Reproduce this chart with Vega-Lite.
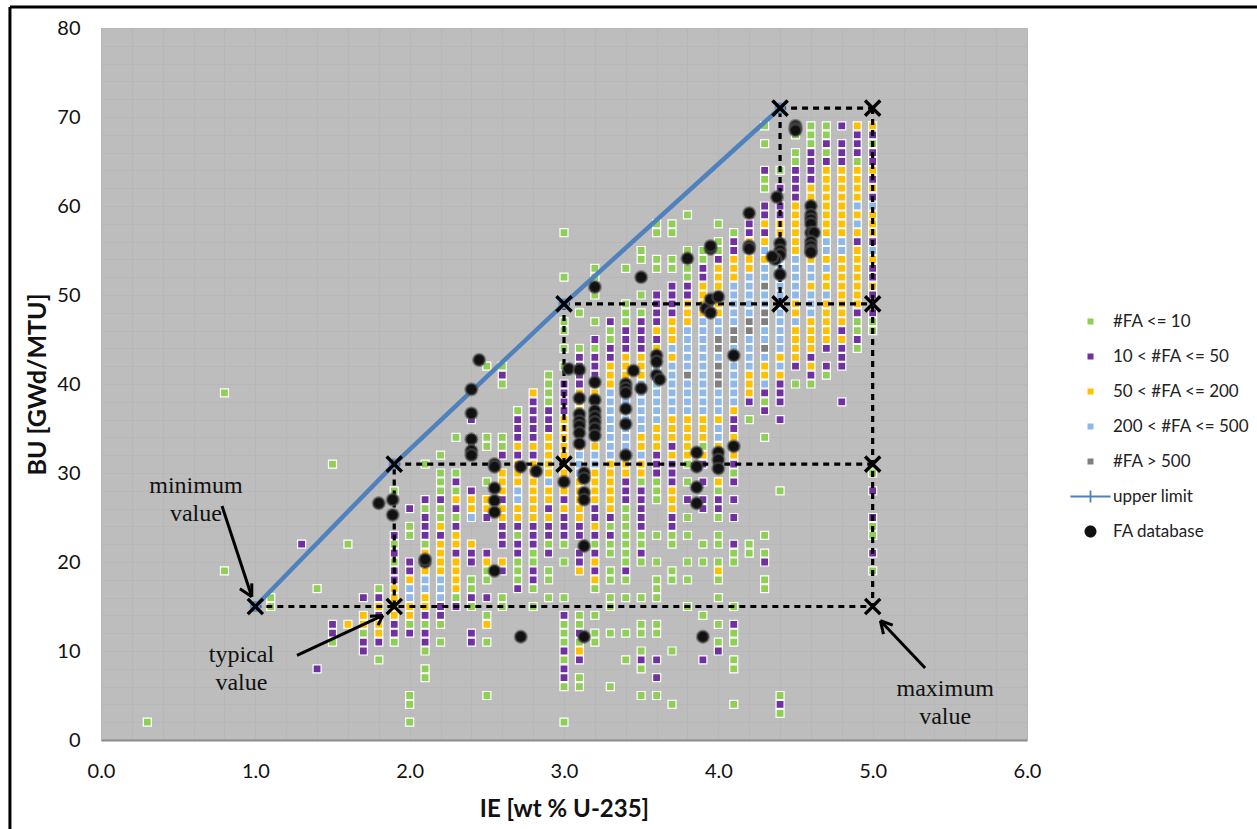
{"$schema":"https://vega.github.io/schema/vega-lite/v6.json","width":926,"height":712,"autosize":{"type":"none"},"padding":{"left":101,"top":28,"right":230,"bottom":89},"background":"#ffffff","view":{"fill":"#bdbdbd","stroke":null},
"datasets":{"squares":[
{"x":0.3,"y":2,"c":"a"},{"x":0.8,"y":39,"c":"a"},{"x":0.8,"y":19,"c":"a"},{"x":1.1,"y":16,"c":"a"},{"x":1.1,"y":15,"c":"a"},{"x":1.3,"y":22,"c":"b"},{"x":1.4,"y":17,"c":"a"},{"x":1.4,"y":8,"c":"b"},{"x":1.5,"y":31,"c":"a"},{"x":1.5,"y":13,"c":"b"},{"x":1.5,"y":12,"c":"b"},{"x":1.5,"y":11,"c":"a"},{"x":1.6,"y":22,"c":"a"},{"x":1.6,"y":13,"c":"c"},
{"x":1.7,"y":16,"c":"b"},{"x":1.7,"y":14,"c":"c"},{"x":1.7,"y":13,"c":"c"},{"x":1.7,"y":12,"c":"a"},{"x":1.7,"y":11,"c":"b"},{"x":1.7,"y":10,"c":"b"},
{"x":1.8,"y":17,"c":"a"},{"x":1.8,"y":16,"c":"b"},{"x":1.8,"y":15,"c":"c"},{"x":1.8,"y":14,"c":"b"},{"x":1.8,"y":13,"c":"c"},{"x":1.8,"y":12,"c":"c"},{"x":1.8,"y":11,"c":"b"},{"x":1.8,"y":9,"c":"a"},
{"x":1.9,"y":28,"c":"a"},{"x":1.9,"y":23,"c":"b"},{"x":1.9,"y":22,"c":"a"},{"x":1.9,"y":21,"c":"b"},{"x":1.9,"y":20,"c":"a"},{"x":1.9,"y":19,"c":"b"},{"x":1.9,"y":18,"c":"b"},{"x":1.9,"y":17,"c":"c"},{"x":1.9,"y":16,"c":"c"},{"x":1.9,"y":15,"c":"c"},{"x":1.9,"y":14,"c":"c"},{"x":1.9,"y":13,"c":"b"},{"x":1.9,"y":12,"c":"b"},{"x":1.9,"y":11,"c":"a"},
{"x":2.0,"y":26,"c":"b"},{"x":2.0,"y":24,"c":"a"},{"x":2.0,"y":23,"c":"a"},{"x":2.0,"y":20,"c":"b"},{"x":2.0,"y":19,"c":"b"},{"x":2.0,"y":18,"c":"c"},{"x":2.0,"y":17,"c":"d"},{"x":2.0,"y":16,"c":"d"},{"x":2.0,"y":15,"c":"c"},{"x":2.0,"y":14,"c":"c"},{"x":2.0,"y":13,"c":"a"},{"x":2.0,"y":12,"c":"b"},{"x":2.0,"y":5,"c":"a"},{"x":2.0,"y":4,"c":"a"},{"x":2.0,"y":2,"c":"a"},
{"x":2.1,"y":31,"c":"a"},{"x":2.1,"y":27,"c":"b"},{"x":2.1,"y":26,"c":"a"},{"x":2.1,"y":25,"c":"b"},{"x":2.1,"y":24,"c":"b"},{"x":2.1,"y":23,"c":"b"},{"x":2.1,"y":22,"c":"a"},{"x":2.1,"y":21,"c":"c"},{"x":2.1,"y":20,"c":"c"},{"x":2.1,"y":19,"c":"c"},{"x":2.1,"y":18,"c":"d"},{"x":2.1,"y":17,"c":"d"},{"x":2.1,"y":16,"c":"c"},{"x":2.1,"y":15,"c":"c"},{"x":2.1,"y":14,"c":"b"},{"x":2.1,"y":13,"c":"a"},{"x":2.1,"y":12,"c":"b"},{"x":2.1,"y":11,"c":"b"},{"x":2.1,"y":10,"c":"a"},{"x":2.1,"y":8,"c":"a"},{"x":2.1,"y":7,"c":"a"},
{"x":2.2,"y":32,"c":"a"},{"x":2.2,"y":30,"c":"a"},{"x":2.2,"y":29,"c":"a"},{"x":2.2,"y":28,"c":"a"},{"x":2.2,"y":27,"c":"b"},{"x":2.2,"y":26,"c":"a"},{"x":2.2,"y":25,"c":"a"},{"x":2.2,"y":24,"c":"c"},{"x":2.2,"y":23,"c":"b"},{"x":2.2,"y":22,"c":"c"},{"x":2.2,"y":21,"c":"c"},{"x":2.2,"y":20,"c":"c"},{"x":2.2,"y":19,"c":"c"},{"x":2.2,"y":18,"c":"d"},{"x":2.2,"y":17,"c":"d"},{"x":2.2,"y":16,"c":"d"},{"x":2.2,"y":15,"c":"b"},{"x":2.2,"y":14,"c":"b"},{"x":2.2,"y":13,"c":"a"},{"x":2.2,"y":11,"c":"a"},
{"x":2.3,"y":34,"c":"a"},{"x":2.3,"y":30,"c":"a"},{"x":2.3,"y":29,"c":"b"},{"x":2.3,"y":28,"c":"a"},{"x":2.3,"y":27,"c":"c"},{"x":2.3,"y":26,"c":"b"},{"x":2.3,"y":25,"c":"a"},{"x":2.3,"y":24,"c":"b"},{"x":2.3,"y":23,"c":"c"},{"x":2.3,"y":22,"c":"c"},{"x":2.3,"y":21,"c":"b"},{"x":2.3,"y":20,"c":"c"},{"x":2.3,"y":19,"c":"c"},{"x":2.3,"y":18,"c":"c"},{"x":2.3,"y":17,"c":"c"},{"x":2.3,"y":16,"c":"a"},{"x":2.3,"y":15,"c":"b"},
{"x":2.4,"y":36,"c":"b"},{"x":2.4,"y":34,"c":"b"},{"x":2.4,"y":33,"c":"b"},{"x":2.4,"y":28,"c":"b"},{"x":2.4,"y":27,"c":"c"},{"x":2.4,"y":26,"c":"c"},{"x":2.4,"y":25,"c":"d"},{"x":2.4,"y":22,"c":"c"},{"x":2.4,"y":21,"c":"b"},{"x":2.4,"y":20,"c":"b"},{"x":2.4,"y":18,"c":"a"},{"x":2.4,"y":17,"c":"a"},{"x":2.4,"y":16,"c":"b"},{"x":2.4,"y":15,"c":"a"},{"x":2.4,"y":12,"c":"b"},{"x":2.4,"y":11,"c":"b"},
{"x":2.5,"y":42,"c":"a"},{"x":2.5,"y":34,"c":"a"},{"x":2.5,"y":33,"c":"a"},{"x":2.5,"y":29,"c":"a"},{"x":2.5,"y":27,"c":"c"},{"x":2.5,"y":26,"c":"c"},{"x":2.5,"y":25,"c":"b"},{"x":2.5,"y":21,"c":"b"},{"x":2.5,"y":20,"c":"c"},{"x":2.5,"y":19,"c":"a"},{"x":2.5,"y":18,"c":"a"},{"x":2.5,"y":16,"c":"b"},{"x":2.5,"y":14,"c":"a"},{"x":2.5,"y":13,"c":"c"},{"x":2.5,"y":11,"c":"a"},{"x":2.5,"y":5,"c":"a"},
{"x":2.6,"y":42,"c":"a"},{"x":2.6,"y":41,"c":"b"},{"x":2.6,"y":40,"c":"a"},{"x":2.6,"y":34,"c":"a"},{"x":2.6,"y":33,"c":"a"},{"x":2.6,"y":32,"c":"b"},{"x":2.6,"y":30,"c":"c"},{"x":2.6,"y":29,"c":"c"},{"x":2.6,"y":28,"c":"c"},{"x":2.6,"y":27,"c":"b"},{"x":2.6,"y":26,"c":"c"},{"x":2.6,"y":25,"c":"c"},{"x":2.6,"y":24,"c":"b"},{"x":2.6,"y":23,"c":"b"},{"x":2.6,"y":22,"c":"b"},{"x":2.6,"y":20,"c":"c"},{"x":2.6,"y":19,"c":"b"},{"x":2.6,"y":16,"c":"a"},{"x":2.6,"y":15,"c":"a"},
{"x":2.7,"y":37,"c":"a"},{"x":2.7,"y":36,"c":"b"},{"x":2.7,"y":35,"c":"b"},{"x":2.7,"y":34,"c":"b"},{"x":2.7,"y":33,"c":"c"},{"x":2.7,"y":32,"c":"b"},{"x":2.7,"y":31,"c":"c"},{"x":2.7,"y":30,"c":"c"},{"x":2.7,"y":29,"c":"c"},{"x":2.7,"y":28,"c":"d"},{"x":2.7,"y":27,"c":"d"},{"x":2.7,"y":26,"c":"c"},{"x":2.7,"y":25,"c":"c"},{"x":2.7,"y":24,"c":"b"},{"x":2.7,"y":23,"c":"a"},{"x":2.7,"y":22,"c":"b"},{"x":2.7,"y":21,"c":"b"},{"x":2.7,"y":20,"c":"a"},{"x":2.7,"y":19,"c":"a"},{"x":2.7,"y":18,"c":"a"},{"x":2.7,"y":17,"c":"b"},
{"x":2.8,"y":39,"c":"c"},{"x":2.8,"y":38,"c":"b"},{"x":2.8,"y":37,"c":"b"},{"x":2.8,"y":36,"c":"b"},{"x":2.8,"y":35,"c":"b"},{"x":2.8,"y":34,"c":"b"},{"x":2.8,"y":33,"c":"c"},{"x":2.8,"y":32,"c":"b"},{"x":2.8,"y":31,"c":"c"},{"x":2.8,"y":30,"c":"c"},{"x":2.8,"y":29,"c":"c"},{"x":2.8,"y":28,"c":"c"},{"x":2.8,"y":27,"c":"c"},{"x":2.8,"y":26,"c":"c"},{"x":2.8,"y":25,"c":"c"},{"x":2.8,"y":24,"c":"b"},{"x":2.8,"y":23,"c":"b"},{"x":2.8,"y":22,"c":"b"},{"x":2.8,"y":21,"c":"a"},{"x":2.8,"y":20,"c":"a"},{"x":2.8,"y":19,"c":"b"},{"x":2.8,"y":18,"c":"b"},{"x":2.8,"y":17,"c":"a"},{"x":2.8,"y":15,"c":"a"},
{"x":2.9,"y":41,"c":"a"},{"x":2.9,"y":40,"c":"a"},{"x":2.9,"y":39,"c":"a"},{"x":2.9,"y":38,"c":"a"},{"x":2.9,"y":37,"c":"b"},{"x":2.9,"y":36,"c":"b"},{"x":2.9,"y":35,"c":"b"},{"x":2.9,"y":34,"c":"c"},{"x":2.9,"y":33,"c":"c"},{"x":2.9,"y":32,"c":"c"},{"x":2.9,"y":31,"c":"c"},{"x":2.9,"y":30,"c":"c"},{"x":2.9,"y":29,"c":"d"},{"x":2.9,"y":28,"c":"c"},{"x":2.9,"y":27,"c":"c"},{"x":2.9,"y":26,"c":"b"},{"x":2.9,"y":25,"c":"c"},{"x":2.9,"y":24,"c":"b"},{"x":2.9,"y":23,"c":"b"},{"x":2.9,"y":22,"c":"a"},{"x":2.9,"y":21,"c":"b"},{"x":2.9,"y":19,"c":"a"},{"x":2.9,"y":18,"c":"a"},{"x":2.9,"y":16,"c":"a"},
{"x":3.0,"y":57,"c":"a"},{"x":3.0,"y":52,"c":"a"},{"x":3.0,"y":47,"c":"a"},{"x":3.0,"y":46,"c":"a"},{"x":3.0,"y":44,"c":"a"},{"x":3.0,"y":42,"c":"a"},{"x":3.0,"y":40,"c":"b"},{"x":3.0,"y":39,"c":"b"},{"x":3.0,"y":38,"c":"b"},{"x":3.0,"y":37,"c":"b"},{"x":3.0,"y":36,"c":"c"},{"x":3.0,"y":35,"c":"c"},{"x":3.0,"y":34,"c":"c"},{"x":3.0,"y":33,"c":"c"},{"x":3.0,"y":32,"c":"c"},{"x":3.0,"y":31,"c":"c"},{"x":3.0,"y":30,"c":"c"},{"x":3.0,"y":29,"c":"c"},{"x":3.0,"y":28,"c":"c"},{"x":3.0,"y":27,"c":"b"},{"x":3.0,"y":26,"c":"c"},{"x":3.0,"y":25,"c":"b"},{"x":3.0,"y":24,"c":"b"},{"x":3.0,"y":23,"c":"b"},{"x":3.0,"y":22,"c":"a"},{"x":3.0,"y":20,"c":"a"},{"x":3.0,"y":16,"c":"a"},{"x":3.0,"y":14,"c":"b"},{"x":3.0,"y":13,"c":"a"},{"x":3.0,"y":12,"c":"a"},{"x":3.0,"y":11,"c":"a"},{"x":3.0,"y":10,"c":"b"},{"x":3.0,"y":9,"c":"a"},{"x":3.0,"y":8,"c":"b"},{"x":3.0,"y":7,"c":"b"},{"x":3.0,"y":6,"c":"a"},{"x":3.0,"y":2,"c":"a"},
{"x":3.1,"y":48,"c":"a"},{"x":3.1,"y":44,"c":"a"},{"x":3.1,"y":43,"c":"b"},{"x":3.1,"y":42,"c":"b"},{"x":3.1,"y":41,"c":"b"},{"x":3.1,"y":40,"c":"b"},{"x":3.1,"y":39,"c":"c"},{"x":3.1,"y":38,"c":"c"},{"x":3.1,"y":37,"c":"c"},{"x":3.1,"y":36,"c":"d"},{"x":3.1,"y":35,"c":"d"},{"x":3.1,"y":34,"c":"d"},{"x":3.1,"y":33,"c":"c"},{"x":3.1,"y":32,"c":"d"},{"x":3.1,"y":31,"c":"d"},{"x":3.1,"y":30,"c":"d"},{"x":3.1,"y":29,"c":"c"},{"x":3.1,"y":28,"c":"c"},{"x":3.1,"y":27,"c":"c"},{"x":3.1,"y":26,"c":"c"},{"x":3.1,"y":25,"c":"c"},{"x":3.1,"y":24,"c":"b"},{"x":3.1,"y":23,"c":"b"},{"x":3.1,"y":21,"c":"b"},{"x":3.1,"y":20,"c":"b"},{"x":3.1,"y":19,"c":"c"},{"x":3.1,"y":14,"c":"a"},{"x":3.1,"y":13,"c":"a"},{"x":3.1,"y":12,"c":"b"},{"x":3.1,"y":11,"c":"a"},{"x":3.1,"y":10,"c":"c"},{"x":3.1,"y":9,"c":"b"},{"x":3.1,"y":7,"c":"a"},{"x":3.1,"y":6,"c":"a"},
{"x":3.2,"y":53,"c":"a"},{"x":3.2,"y":52,"c":"a"},{"x":3.2,"y":50,"c":"a"},{"x":3.2,"y":47,"c":"a"},{"x":3.2,"y":45,"c":"b"},{"x":3.2,"y":44,"c":"a"},{"x":3.2,"y":43,"c":"b"},{"x":3.2,"y":42,"c":"b"},{"x":3.2,"y":41,"c":"b"},{"x":3.2,"y":40,"c":"c"},{"x":3.2,"y":39,"c":"c"},{"x":3.2,"y":38,"c":"c"},{"x":3.2,"y":37,"c":"d"},{"x":3.2,"y":36,"c":"d"},{"x":3.2,"y":35,"c":"d"},{"x":3.2,"y":34,"c":"d"},{"x":3.2,"y":33,"c":"c"},{"x":3.2,"y":32,"c":"d"},{"x":3.2,"y":31,"c":"d"},{"x":3.2,"y":30,"c":"c"},{"x":3.2,"y":29,"c":"c"},{"x":3.2,"y":28,"c":"c"},{"x":3.2,"y":27,"c":"c"},{"x":3.2,"y":26,"c":"b"},{"x":3.2,"y":25,"c":"b"},{"x":3.2,"y":24,"c":"c"},{"x":3.2,"y":23,"c":"b"},{"x":3.2,"y":22,"c":"a"},{"x":3.2,"y":21,"c":"b"},{"x":3.2,"y":20,"c":"c"},{"x":3.2,"y":19,"c":"b"},{"x":3.2,"y":18,"c":"c"},{"x":3.2,"y":17,"c":"a"},{"x":3.2,"y":14,"c":"a"},{"x":3.2,"y":12,"c":"a"},{"x":3.2,"y":11,"c":"a"},
{"x":3.3,"y":47,"c":"b"},{"x":3.3,"y":46,"c":"a"},{"x":3.3,"y":45,"c":"a"},{"x":3.3,"y":44,"c":"b"},{"x":3.3,"y":43,"c":"b"},{"x":3.3,"y":42,"c":"c"},{"x":3.3,"y":41,"c":"c"},{"x":3.3,"y":40,"c":"c"},{"x":3.3,"y":39,"c":"d"},{"x":3.3,"y":38,"c":"d"},{"x":3.3,"y":37,"c":"d"},{"x":3.3,"y":36,"c":"d"},{"x":3.3,"y":35,"c":"d"},{"x":3.3,"y":34,"c":"d"},{"x":3.3,"y":33,"c":"d"},{"x":3.3,"y":32,"c":"d"},{"x":3.3,"y":31,"c":"c"},{"x":3.3,"y":30,"c":"c"},{"x":3.3,"y":29,"c":"c"},{"x":3.3,"y":28,"c":"c"},{"x":3.3,"y":27,"c":"c"},{"x":3.3,"y":26,"c":"c"},{"x":3.3,"y":25,"c":"b"},{"x":3.3,"y":24,"c":"a"},{"x":3.3,"y":23,"c":"b"},{"x":3.3,"y":22,"c":"a"},{"x":3.3,"y":21,"c":"a"},{"x":3.3,"y":19,"c":"a"},{"x":3.3,"y":18,"c":"a"},{"x":3.3,"y":16,"c":"a"},{"x":3.3,"y":15,"c":"a"},{"x":3.3,"y":12,"c":"a"},{"x":3.3,"y":6,"c":"a"},
{"x":3.4,"y":53,"c":"a"},{"x":3.4,"y":49,"c":"a"},{"x":3.4,"y":48,"c":"a"},{"x":3.4,"y":47,"c":"a"},{"x":3.4,"y":46,"c":"b"},{"x":3.4,"y":45,"c":"b"},{"x":3.4,"y":44,"c":"b"},{"x":3.4,"y":43,"c":"c"},{"x":3.4,"y":42,"c":"c"},{"x":3.4,"y":41,"c":"c"},{"x":3.4,"y":40,"c":"d"},{"x":3.4,"y":39,"c":"d"},{"x":3.4,"y":38,"c":"d"},{"x":3.4,"y":37,"c":"d"},{"x":3.4,"y":36,"c":"d"},{"x":3.4,"y":35,"c":"d"},{"x":3.4,"y":34,"c":"d"},{"x":3.4,"y":33,"c":"d"},{"x":3.4,"y":32,"c":"d"},{"x":3.4,"y":31,"c":"c"},{"x":3.4,"y":30,"c":"c"},{"x":3.4,"y":29,"c":"b"},{"x":3.4,"y":28,"c":"b"},{"x":3.4,"y":27,"c":"b"},{"x":3.4,"y":26,"c":"a"},{"x":3.4,"y":25,"c":"a"},{"x":3.4,"y":24,"c":"a"},{"x":3.4,"y":23,"c":"a"},{"x":3.4,"y":22,"c":"a"},{"x":3.4,"y":21,"c":"a"},{"x":3.4,"y":20,"c":"a"},{"x":3.4,"y":19,"c":"b"},{"x":3.4,"y":18,"c":"a"},{"x":3.4,"y":16,"c":"a"},{"x":3.4,"y":12,"c":"a"},{"x":3.4,"y":9,"c":"a"},
{"x":3.5,"y":55,"c":"a"},{"x":3.5,"y":54,"c":"a"},{"x":3.5,"y":50,"c":"a"},{"x":3.5,"y":48,"c":"a"},{"x":3.5,"y":47,"c":"b"},{"x":3.5,"y":46,"c":"b"},{"x":3.5,"y":45,"c":"b"},{"x":3.5,"y":44,"c":"b"},{"x":3.5,"y":43,"c":"c"},{"x":3.5,"y":42,"c":"c"},{"x":3.5,"y":41,"c":"c"},{"x":3.5,"y":40,"c":"d"},{"x":3.5,"y":39,"c":"d"},{"x":3.5,"y":38,"c":"d"},{"x":3.5,"y":37,"c":"d"},{"x":3.5,"y":36,"c":"d"},{"x":3.5,"y":35,"c":"d"},{"x":3.5,"y":34,"c":"c"},{"x":3.5,"y":33,"c":"c"},{"x":3.5,"y":32,"c":"d"},{"x":3.5,"y":31,"c":"c"},{"x":3.5,"y":30,"c":"c"},{"x":3.5,"y":29,"c":"a"},{"x":3.5,"y":28,"c":"b"},{"x":3.5,"y":27,"c":"b"},{"x":3.5,"y":26,"c":"b"},{"x":3.5,"y":25,"c":"b"},{"x":3.5,"y":24,"c":"b"},{"x":3.5,"y":23,"c":"a"},{"x":3.5,"y":22,"c":"a"},{"x":3.5,"y":21,"c":"b"},{"x":3.5,"y":20,"c":"a"},{"x":3.5,"y":16,"c":"a"},{"x":3.5,"y":13,"c":"a"},{"x":3.5,"y":12,"c":"a"},{"x":3.5,"y":10,"c":"a"},{"x":3.5,"y":9,"c":"b"},{"x":3.5,"y":8,"c":"a"},{"x":3.5,"y":5,"c":"a"},
{"x":3.6,"y":58,"c":"a"},{"x":3.6,"y":57,"c":"a"},{"x":3.6,"y":54,"c":"a"},{"x":3.6,"y":53,"c":"a"},{"x":3.6,"y":50,"c":"b"},{"x":3.6,"y":49,"c":"b"},{"x":3.6,"y":48,"c":"b"},{"x":3.6,"y":47,"c":"b"},{"x":3.6,"y":46,"c":"c"},{"x":3.6,"y":45,"c":"b"},{"x":3.6,"y":44,"c":"c"},{"x":3.6,"y":43,"c":"d"},{"x":3.6,"y":42,"c":"d"},{"x":3.6,"y":41,"c":"d"},{"x":3.6,"y":40,"c":"d"},{"x":3.6,"y":39,"c":"d"},{"x":3.6,"y":38,"c":"d"},{"x":3.6,"y":37,"c":"d"},{"x":3.6,"y":36,"c":"d"},{"x":3.6,"y":35,"c":"c"},{"x":3.6,"y":34,"c":"c"},{"x":3.6,"y":33,"c":"c"},{"x":3.6,"y":32,"c":"b"},{"x":3.6,"y":31,"c":"b"},{"x":3.6,"y":30,"c":"b"},{"x":3.6,"y":29,"c":"a"},{"x":3.6,"y":28,"c":"a"},{"x":3.6,"y":27,"c":"a"},{"x":3.6,"y":23,"c":"a"},{"x":3.6,"y":20,"c":"a"},{"x":3.6,"y":18,"c":"a"},{"x":3.6,"y":17,"c":"a"},{"x":3.6,"y":16,"c":"a"},{"x":3.6,"y":13,"c":"a"},{"x":3.6,"y":12,"c":"a"},{"x":3.6,"y":9,"c":"b"},{"x":3.6,"y":7,"c":"b"},{"x":3.6,"y":5,"c":"a"},
{"x":3.7,"y":58,"c":"a"},{"x":3.7,"y":57,"c":"a"},{"x":3.7,"y":54,"c":"a"},{"x":3.7,"y":53,"c":"a"},{"x":3.7,"y":51,"c":"b"},{"x":3.7,"y":50,"c":"b"},{"x":3.7,"y":49,"c":"b"},{"x":3.7,"y":48,"c":"b"},{"x":3.7,"y":47,"c":"c"},{"x":3.7,"y":46,"c":"c"},{"x":3.7,"y":45,"c":"c"},{"x":3.7,"y":44,"c":"d"},{"x":3.7,"y":43,"c":"c"},{"x":3.7,"y":42,"c":"d"},{"x":3.7,"y":41,"c":"d"},{"x":3.7,"y":40,"c":"d"},{"x":3.7,"y":39,"c":"d"},{"x":3.7,"y":38,"c":"d"},{"x":3.7,"y":37,"c":"d"},{"x":3.7,"y":36,"c":"c"},{"x":3.7,"y":35,"c":"c"},{"x":3.7,"y":34,"c":"c"},{"x":3.7,"y":33,"c":"b"},{"x":3.7,"y":32,"c":"c"},{"x":3.7,"y":31,"c":"b"},{"x":3.7,"y":30,"c":"b"},{"x":3.7,"y":29,"c":"b"},{"x":3.7,"y":28,"c":"c"},{"x":3.7,"y":27,"c":"c"},{"x":3.7,"y":26,"c":"c"},{"x":3.7,"y":25,"c":"b"},{"x":3.7,"y":24,"c":"b"},{"x":3.7,"y":23,"c":"a"},{"x":3.7,"y":22,"c":"a"},{"x":3.7,"y":19,"c":"a"},{"x":3.7,"y":18,"c":"a"},{"x":3.7,"y":10,"c":"a"},{"x":3.7,"y":4,"c":"a"},
{"x":3.8,"y":59,"c":"a"},{"x":3.8,"y":55,"c":"a"},{"x":3.8,"y":53,"c":"a"},{"x":3.8,"y":52,"c":"a"},{"x":3.8,"y":51,"c":"b"},{"x":3.8,"y":50,"c":"b"},{"x":3.8,"y":49,"c":"c"},{"x":3.8,"y":48,"c":"c"},{"x":3.8,"y":47,"c":"c"},{"x":3.8,"y":46,"c":"d"},{"x":3.8,"y":45,"c":"d"},{"x":3.8,"y":44,"c":"d"},{"x":3.8,"y":43,"c":"d"},{"x":3.8,"y":42,"c":"d"},{"x":3.8,"y":41,"c":"e"},{"x":3.8,"y":40,"c":"d"},{"x":3.8,"y":39,"c":"d"},{"x":3.8,"y":38,"c":"d"},{"x":3.8,"y":37,"c":"d"},{"x":3.8,"y":36,"c":"c"},{"x":3.8,"y":35,"c":"c"},{"x":3.8,"y":34,"c":"c"},{"x":3.8,"y":33,"c":"c"},{"x":3.8,"y":32,"c":"c"},{"x":3.8,"y":31,"c":"a"},{"x":3.8,"y":29,"c":"a"},{"x":3.8,"y":27,"c":"b"},{"x":3.8,"y":25,"c":"a"},{"x":3.8,"y":23,"c":"a"},{"x":3.8,"y":20,"c":"a"},{"x":3.8,"y":18,"c":"a"},{"x":3.8,"y":15,"c":"a"},
{"x":3.9,"y":55,"c":"a"},{"x":3.9,"y":54,"c":"a"},{"x":3.9,"y":53,"c":"b"},{"x":3.9,"y":52,"c":"b"},{"x":3.9,"y":51,"c":"c"},{"x":3.9,"y":50,"c":"c"},{"x":3.9,"y":49,"c":"c"},{"x":3.9,"y":48,"c":"c"},{"x":3.9,"y":47,"c":"d"},{"x":3.9,"y":46,"c":"d"},{"x":3.9,"y":45,"c":"d"},{"x":3.9,"y":44,"c":"d"},{"x":3.9,"y":43,"c":"d"},{"x":3.9,"y":42,"c":"d"},{"x":3.9,"y":41,"c":"d"},{"x":3.9,"y":40,"c":"d"},{"x":3.9,"y":39,"c":"d"},{"x":3.9,"y":38,"c":"d"},{"x":3.9,"y":37,"c":"d"},{"x":3.9,"y":36,"c":"c"},{"x":3.9,"y":35,"c":"c"},{"x":3.9,"y":34,"c":"c"},{"x":3.9,"y":33,"c":"a"},{"x":3.9,"y":32,"c":"c"},{"x":3.9,"y":31,"c":"b"},{"x":3.9,"y":29,"c":"b"},{"x":3.9,"y":27,"c":"b"},{"x":3.9,"y":26,"c":"b"},{"x":3.9,"y":22,"c":"a"},{"x":3.9,"y":20,"c":"a"},{"x":3.9,"y":14,"c":"a"},{"x":3.9,"y":9,"c":"b"},
{"x":4.0,"y":58,"c":"a"},{"x":4.0,"y":56,"c":"a"},{"x":4.0,"y":55,"c":"a"},{"x":4.0,"y":54,"c":"b"},{"x":4.0,"y":53,"c":"c"},{"x":4.0,"y":52,"c":"c"},{"x":4.0,"y":51,"c":"c"},{"x":4.0,"y":50,"c":"c"},{"x":4.0,"y":49,"c":"c"},{"x":4.0,"y":48,"c":"c"},{"x":4.0,"y":47,"c":"d"},{"x":4.0,"y":46,"c":"d"},{"x":4.0,"y":45,"c":"e"},{"x":4.0,"y":44,"c":"e"},{"x":4.0,"y":43,"c":"d"},{"x":4.0,"y":42,"c":"e"},{"x":4.0,"y":41,"c":"e"},{"x":4.0,"y":40,"c":"e"},{"x":4.0,"y":39,"c":"d"},{"x":4.0,"y":38,"c":"d"},{"x":4.0,"y":37,"c":"d"},{"x":4.0,"y":36,"c":"c"},{"x":4.0,"y":35,"c":"d"},{"x":4.0,"y":34,"c":"d"},{"x":4.0,"y":33,"c":"c"},{"x":4.0,"y":32,"c":"c"},{"x":4.0,"y":31,"c":"c"},{"x":4.0,"y":29,"c":"c"},{"x":4.0,"y":28,"c":"a"},{"x":4.0,"y":27,"c":"b"},{"x":4.0,"y":26,"c":"b"},{"x":4.0,"y":25,"c":"a"},{"x":4.0,"y":23,"c":"a"},{"x":4.0,"y":22,"c":"a"},{"x":4.0,"y":20,"c":"a"},{"x":4.0,"y":19,"c":"c"},{"x":4.0,"y":18,"c":"a"},{"x":4.0,"y":16,"c":"a"},{"x":4.0,"y":13,"c":"a"},{"x":4.0,"y":11,"c":"a"},{"x":4.0,"y":10,"c":"b"},
{"x":4.1,"y":57,"c":"a"},{"x":4.1,"y":56,"c":"b"},{"x":4.1,"y":55,"c":"b"},{"x":4.1,"y":54,"c":"c"},{"x":4.1,"y":53,"c":"c"},{"x":4.1,"y":52,"c":"c"},{"x":4.1,"y":51,"c":"d"},{"x":4.1,"y":50,"c":"d"},{"x":4.1,"y":49,"c":"d"},{"x":4.1,"y":48,"c":"d"},{"x":4.1,"y":47,"c":"d"},{"x":4.1,"y":46,"c":"e"},{"x":4.1,"y":45,"c":"e"},{"x":4.1,"y":44,"c":"d"},{"x":4.1,"y":43,"c":"d"},{"x":4.1,"y":42,"c":"d"},{"x":4.1,"y":41,"c":"d"},{"x":4.1,"y":40,"c":"d"},{"x":4.1,"y":39,"c":"d"},{"x":4.1,"y":38,"c":"d"},{"x":4.1,"y":37,"c":"c"},{"x":4.1,"y":36,"c":"b"},{"x":4.1,"y":35,"c":"b"},{"x":4.1,"y":34,"c":"c"},{"x":4.1,"y":33,"c":"c"},{"x":4.1,"y":32,"c":"c"},{"x":4.1,"y":31,"c":"b"},{"x":4.1,"y":30,"c":"a"},{"x":4.1,"y":29,"c":"b"},{"x":4.1,"y":27,"c":"b"},{"x":4.1,"y":25,"c":"b"},{"x":4.1,"y":22,"c":"b"},{"x":4.1,"y":21,"c":"a"},{"x":4.1,"y":20,"c":"a"},{"x":4.1,"y":15,"c":"a"},{"x":4.1,"y":13,"c":"b"},{"x":4.1,"y":12,"c":"a"},{"x":4.1,"y":11,"c":"a"},{"x":4.1,"y":9,"c":"a"},{"x":4.1,"y":8,"c":"a"},{"x":4.1,"y":4,"c":"a"},
{"x":4.2,"y":58,"c":"b"},{"x":4.2,"y":57,"c":"b"},{"x":4.2,"y":56,"c":"c"},{"x":4.2,"y":55,"c":"c"},{"x":4.2,"y":54,"c":"c"},{"x":4.2,"y":53,"c":"c"},{"x":4.2,"y":52,"c":"d"},{"x":4.2,"y":51,"c":"d"},{"x":4.2,"y":50,"c":"d"},{"x":4.2,"y":49,"c":"d"},{"x":4.2,"y":48,"c":"d"},{"x":4.2,"y":47,"c":"e"},{"x":4.2,"y":46,"c":"e"},{"x":4.2,"y":45,"c":"d"},{"x":4.2,"y":44,"c":"d"},{"x":4.2,"y":43,"c":"d"},{"x":4.2,"y":42,"c":"d"},{"x":4.2,"y":41,"c":"c"},{"x":4.2,"y":40,"c":"c"},{"x":4.2,"y":39,"c":"c"},{"x":4.2,"y":38,"c":"b"},{"x":4.2,"y":36,"c":"a"},{"x":4.2,"y":22,"c":"a"},{"x":4.2,"y":21,"c":"a"},
{"x":4.3,"y":69,"c":"a"},{"x":4.3,"y":67,"c":"a"},{"x":4.3,"y":64,"c":"b"},{"x":4.3,"y":63,"c":"a"},{"x":4.3,"y":62,"c":"a"},{"x":4.3,"y":60,"c":"b"},{"x":4.3,"y":59,"c":"b"},{"x":4.3,"y":58,"c":"c"},{"x":4.3,"y":57,"c":"b"},{"x":4.3,"y":56,"c":"c"},{"x":4.3,"y":55,"c":"d"},{"x":4.3,"y":54,"c":"c"},{"x":4.3,"y":53,"c":"d"},{"x":4.3,"y":52,"c":"d"},{"x":4.3,"y":51,"c":"e"},{"x":4.3,"y":50,"c":"d"},{"x":4.3,"y":49,"c":"d"},{"x":4.3,"y":48,"c":"e"},{"x":4.3,"y":47,"c":"e"},{"x":4.3,"y":46,"c":"d"},{"x":4.3,"y":45,"c":"d"},{"x":4.3,"y":44,"c":"e"},{"x":4.3,"y":43,"c":"d"},{"x":4.3,"y":42,"c":"c"},{"x":4.3,"y":41,"c":"c"},{"x":4.3,"y":40,"c":"d"},{"x":4.3,"y":39,"c":"b"},{"x":4.3,"y":38,"c":"a"},{"x":4.3,"y":37,"c":"b"},{"x":4.3,"y":34,"c":"a"},{"x":4.3,"y":23,"c":"a"},{"x":4.3,"y":21,"c":"a"},{"x":4.3,"y":20,"c":"b"},{"x":4.3,"y":18,"c":"a"},{"x":4.3,"y":17,"c":"a"},
{"x":4.4,"y":64,"c":"a"},{"x":4.4,"y":62,"c":"b"},{"x":4.4,"y":60,"c":"b"},{"x":4.4,"y":59,"c":"b"},{"x":4.4,"y":58,"c":"c"},{"x":4.4,"y":57,"c":"c"},{"x":4.4,"y":56,"c":"c"},{"x":4.4,"y":55,"c":"d"},{"x":4.4,"y":54,"c":"d"},{"x":4.4,"y":53,"c":"d"},{"x":4.4,"y":52,"c":"d"},{"x":4.4,"y":51,"c":"d"},{"x":4.4,"y":50,"c":"d"},{"x":4.4,"y":49,"c":"d"},{"x":4.4,"y":48,"c":"d"},{"x":4.4,"y":47,"c":"d"},{"x":4.4,"y":46,"c":"d"},{"x":4.4,"y":45,"c":"d"},{"x":4.4,"y":44,"c":"d"},{"x":4.4,"y":43,"c":"c"},{"x":4.4,"y":42,"c":"d"},{"x":4.4,"y":41,"c":"c"},{"x":4.4,"y":40,"c":"b"},{"x":4.4,"y":39,"c":"b"},{"x":4.4,"y":38,"c":"b"},{"x":4.4,"y":36,"c":"b"},{"x":4.4,"y":28,"c":"a"},{"x":4.4,"y":5,"c":"a"},{"x":4.4,"y":4,"c":"b"},{"x":4.4,"y":3,"c":"a"},
{"x":4.5,"y":68,"c":"a"},{"x":4.5,"y":66,"c":"a"},{"x":4.5,"y":65,"c":"a"},{"x":4.5,"y":64,"c":"b"},{"x":4.5,"y":63,"c":"b"},{"x":4.5,"y":62,"c":"b"},{"x":4.5,"y":61,"c":"b"},{"x":4.5,"y":60,"c":"c"},{"x":4.5,"y":59,"c":"c"},{"x":4.5,"y":58,"c":"c"},{"x":4.5,"y":57,"c":"c"},{"x":4.5,"y":56,"c":"c"},{"x":4.5,"y":55,"c":"c"},{"x":4.5,"y":54,"c":"d"},{"x":4.5,"y":53,"c":"d"},{"x":4.5,"y":52,"c":"d"},{"x":4.5,"y":51,"c":"d"},{"x":4.5,"y":50,"c":"d"},{"x":4.5,"y":49,"c":"c"},{"x":4.5,"y":48,"c":"c"},{"x":4.5,"y":47,"c":"d"},{"x":4.5,"y":46,"c":"c"},{"x":4.5,"y":45,"c":"c"},{"x":4.5,"y":44,"c":"c"},{"x":4.5,"y":43,"c":"c"},{"x":4.5,"y":42,"c":"b"},{"x":4.5,"y":40,"c":"a"},
{"x":4.6,"y":69,"c":"a"},{"x":4.6,"y":68,"c":"a"},{"x":4.6,"y":67,"c":"a"},{"x":4.6,"y":66,"c":"b"},{"x":4.6,"y":65,"c":"b"},{"x":4.6,"y":64,"c":"b"},{"x":4.6,"y":63,"c":"b"},{"x":4.6,"y":62,"c":"c"},{"x":4.6,"y":61,"c":"c"},{"x":4.6,"y":60,"c":"c"},{"x":4.6,"y":59,"c":"c"},{"x":4.6,"y":58,"c":"c"},{"x":4.6,"y":57,"c":"c"},{"x":4.6,"y":56,"c":"c"},{"x":4.6,"y":55,"c":"c"},{"x":4.6,"y":54,"c":"c"},{"x":4.6,"y":53,"c":"d"},{"x":4.6,"y":52,"c":"d"},{"x":4.6,"y":51,"c":"c"},{"x":4.6,"y":50,"c":"d"},{"x":4.6,"y":49,"c":"d"},{"x":4.6,"y":48,"c":"d"},{"x":4.6,"y":47,"c":"c"},{"x":4.6,"y":46,"c":"c"},{"x":4.6,"y":45,"c":"c"},{"x":4.6,"y":44,"c":"c"},{"x":4.6,"y":43,"c":"b"},{"x":4.6,"y":42,"c":"c"},{"x":4.6,"y":41,"c":"b"},{"x":4.6,"y":40,"c":"a"},
{"x":4.7,"y":69,"c":"a"},{"x":4.7,"y":68,"c":"a"},{"x":4.7,"y":67,"c":"b"},{"x":4.7,"y":66,"c":"a"},{"x":4.7,"y":65,"c":"b"},{"x":4.7,"y":64,"c":"c"},{"x":4.7,"y":63,"c":"c"},{"x":4.7,"y":62,"c":"c"},{"x":4.7,"y":61,"c":"c"},{"x":4.7,"y":60,"c":"c"},{"x":4.7,"y":59,"c":"c"},{"x":4.7,"y":58,"c":"c"},{"x":4.7,"y":57,"c":"c"},{"x":4.7,"y":56,"c":"d"},{"x":4.7,"y":55,"c":"d"},{"x":4.7,"y":54,"c":"c"},{"x":4.7,"y":53,"c":"d"},{"x":4.7,"y":52,"c":"c"},{"x":4.7,"y":51,"c":"c"},{"x":4.7,"y":50,"c":"d"},{"x":4.7,"y":49,"c":"c"},{"x":4.7,"y":48,"c":"c"},{"x":4.7,"y":47,"c":"c"},{"x":4.7,"y":46,"c":"c"},{"x":4.7,"y":45,"c":"c"},{"x":4.7,"y":44,"c":"b"},{"x":4.7,"y":42,"c":"b"},{"x":4.7,"y":41,"c":"a"},
{"x":4.8,"y":69,"c":"b"},{"x":4.8,"y":67,"c":"b"},{"x":4.8,"y":66,"c":"b"},{"x":4.8,"y":65,"c":"b"},{"x":4.8,"y":64,"c":"c"},{"x":4.8,"y":63,"c":"c"},{"x":4.8,"y":62,"c":"c"},{"x":4.8,"y":61,"c":"c"},{"x":4.8,"y":60,"c":"c"},{"x":4.8,"y":59,"c":"c"},{"x":4.8,"y":58,"c":"c"},{"x":4.8,"y":57,"c":"c"},{"x":4.8,"y":56,"c":"d"},{"x":4.8,"y":55,"c":"d"},{"x":4.8,"y":54,"c":"c"},{"x":4.8,"y":53,"c":"c"},{"x":4.8,"y":52,"c":"c"},{"x":4.8,"y":51,"c":"c"},{"x":4.8,"y":50,"c":"c"},{"x":4.8,"y":49,"c":"c"},{"x":4.8,"y":48,"c":"c"},{"x":4.8,"y":47,"c":"c"},{"x":4.8,"y":46,"c":"b"},{"x":4.8,"y":45,"c":"c"},{"x":4.8,"y":44,"c":"b"},{"x":4.8,"y":43,"c":"b"},{"x":4.8,"y":42,"c":"b"},{"x":4.8,"y":38,"c":"b"},
{"x":4.9,"y":69,"c":"c"},{"x":4.9,"y":68,"c":"b"},{"x":4.9,"y":67,"c":"b"},{"x":4.9,"y":66,"c":"b"},{"x":4.9,"y":65,"c":"a"},{"x":4.9,"y":64,"c":"c"},{"x":4.9,"y":63,"c":"c"},{"x":4.9,"y":62,"c":"c"},{"x":4.9,"y":61,"c":"c"},{"x":4.9,"y":60,"c":"d"},{"x":4.9,"y":59,"c":"c"},{"x":4.9,"y":58,"c":"d"},{"x":4.9,"y":57,"c":"c"},{"x":4.9,"y":56,"c":"b"},{"x":4.9,"y":55,"c":"c"},{"x":4.9,"y":54,"c":"c"},{"x":4.9,"y":53,"c":"c"},{"x":4.9,"y":52,"c":"c"},{"x":4.9,"y":51,"c":"c"},{"x":4.9,"y":50,"c":"c"},{"x":4.9,"y":49,"c":"c"},{"x":4.9,"y":48,"c":"b"},{"x":4.9,"y":47,"c":"a"},{"x":4.9,"y":46,"c":"a"},{"x":4.9,"y":45,"c":"b"},{"x":4.9,"y":44,"c":"a"},
{"x":5.0,"y":69,"c":"c"},{"x":5.0,"y":68,"c":"b"},{"x":5.0,"y":67,"c":"a"},{"x":5.0,"y":66,"c":"b"},{"x":5.0,"y":65,"c":"b"},{"x":5.0,"y":64,"c":"c"},{"x":5.0,"y":63,"c":"b"},{"x":5.0,"y":62,"c":"c"},{"x":5.0,"y":61,"c":"b"},{"x":5.0,"y":60,"c":"d"},{"x":5.0,"y":59,"c":"c"},{"x":5.0,"y":58,"c":"c"},{"x":5.0,"y":57,"c":"c"},{"x":5.0,"y":56,"c":"b"},{"x":5.0,"y":55,"c":"d"},{"x":5.0,"y":54,"c":"c"},{"x":5.0,"y":53,"c":"b"},{"x":5.0,"y":52,"c":"b"},{"x":5.0,"y":51,"c":"c"},{"x":5.0,"y":50,"c":"b"},{"x":5.0,"y":48,"c":"b"},{"x":5.0,"y":47,"c":"a"},{"x":5.0,"y":46,"c":"a"},{"x":5.0,"y":30,"c":"a"},{"x":5.0,"y":28,"c":"b"},{"x":5.0,"y":25,"c":"b"},{"x":5.0,"y":24,"c":"a"},{"x":5.0,"y":23,"c":"a"},{"x":5.0,"y":21,"c":"b"},{"x":5.0,"y":19,"c":"a"}
],
"fa":[
{"x":1.8,"y":26.6},{"x":1.89,"y":27},{"x":1.89,"y":25.3},{"x":2.1,"y":20},{"x":2.1,"y":20.3},{"x":2.4,"y":39.4},{"x":2.45,"y":42.7},{"x":2.4,"y":36.7},{"x":2.4,"y":33.8},{"x":2.4,"y":32.5},{"x":2.4,"y":32},{"x":2.55,"y":31},{"x":2.55,"y":30.7},{"x":2.55,"y":28.3},{"x":2.55,"y":26.9},{"x":2.55,"y":25.6},{"x":2.55,"y":19},{"x":2.72,"y":11.6},{"x":2.72,"y":30.7},{"x":2.82,"y":30.2},{"x":3.0,"y":29},{"x":3.03,"y":41.7},{"x":3.1,"y":41.6},{"x":3.1,"y":38.4},{"x":3.1,"y":36.6},{"x":3.1,"y":35.8},{"x":3.1,"y":35.3},{"x":3.1,"y":34.5},{"x":3.1,"y":33.3},{"x":3.13,"y":30},{"x":3.13,"y":29.4},{"x":3.13,"y":27.8},{"x":3.13,"y":27},{"x":3.13,"y":21.8},{"x":3.13,"y":11.6},{"x":3.2,"y":50.9},{"x":3.2,"y":40.2},{"x":3.2,"y":38.2},{"x":3.2,"y":37},{"x":3.2,"y":36.3},{"x":3.2,"y":35.7},{"x":3.2,"y":35},{"x":3.2,"y":34.2},{"x":3.4,"y":40},{"x":3.4,"y":39.5},{"x":3.4,"y":39},{"x":3.4,"y":37.2},{"x":3.4,"y":35.5},{"x":3.4,"y":32},{"x":3.45,"y":41.5},{"x":3.5,"y":39.5},{"x":3.5,"y":52},{"x":3.6,"y":43.2},{"x":3.6,"y":42.5},{"x":3.6,"y":41},{"x":3.62,"y":40.5},{"x":3.8,"y":54.1},{"x":3.86,"y":32.3},{"x":3.86,"y":30.7},{"x":3.86,"y":28.4},{"x":3.86,"y":26.6},{"x":3.9,"y":11.6},{"x":3.92,"y":48.5},{"x":3.95,"y":48},{"x":3.95,"y":49.5},{"x":4.0,"y":49.8},{"x":3.95,"y":55.2},{"x":3.95,"y":55.5},{"x":4.0,"y":32.3},{"x":4.0,"y":31.5},{"x":4.0,"y":30.5},{"x":4.1,"y":33},{"x":4.1,"y":43.2},{"x":4.2,"y":59.2},{"x":4.2,"y":55.5},{"x":4.2,"y":55.2},{"x":4.38,"y":61},{"x":4.4,"y":55.8},{"x":4.4,"y":55},{"x":4.4,"y":54.5},{"x":4.37,"y":54},{"x":4.35,"y":54.3},{"x":4.4,"y":52.3},{"x":4.5,"y":69},{"x":4.5,"y":68.7},{"x":4.5,"y":68.5},{"x":4.6,"y":60},{"x":4.6,"y":59},{"x":4.6,"y":58.5},{"x":4.6,"y":58},{"x":4.6,"y":57},{"x":4.62,"y":57},{"x":4.6,"y":56},{"x":4.6,"y":55.5},{"x":4.6,"y":55},{"x":4.6,"y":54.8}
],
"limit":[{"x":1.0,"y":15},{"x":1.9,"y":31},{"x":3.0,"y":49},{"x":4.4,"y":71}],
"typical":[{"x":1.0,"y":15},{"x":1.9,"y":15},{"x":5.0,"y":15},{"x":1.9,"y":31},{"x":3.0,"y":31},{"x":5.0,"y":31},{"x":3.0,"y":49},{"x":4.4,"y":49},{"x":5.0,"y":49},{"x":4.4,"y":71},{"x":5.0,"y":71}],
"dashes":[{"x":1.0,"y":15,"g":"p"},{"x":5.0,"y":15,"g":"p"},{"x":1.9,"y":15,"g":"q"},{"x":1.9,"y":31,"g":"q"},{"x":1.9,"y":31,"g":"r"},{"x":5.0,"y":31,"g":"r"},{"x":3.0,"y":31,"g":"s"},{"x":3.0,"y":49,"g":"s"},{"x":3.0,"y":49,"g":"t"},{"x":5.0,"y":49,"g":"t"},{"x":4.4,"y":49,"g":"u"},{"x":4.4,"y":71,"g":"u"},{"x":4.4,"y":71,"g":"v"},{"x":5.0,"y":71,"g":"v"},{"x":5.0,"y":71,"g":"w"},{"x":5.0,"y":15,"g":"w"}],
"arrows":[{"x":0.784,"y":26.3,"g":"a1"},{"x":0.977,"y":16.1,"g":"a1"},{"x":0.9,"y":17,"g":"a2"},{"x":0.977,"y":16.1,"g":"a2"},{"x":0.977,"y":17.6,"g":"a3"},{"x":0.977,"y":16.1,"g":"a3"},{"x":1.27,"y":9.5,"g":"b1"},{"x":1.827,"y":14,"g":"b1"},{"x":1.743,"y":13.9,"g":"b2"},{"x":1.827,"y":14,"g":"b2"},{"x":1.795,"y":12.9,"g":"b3"},{"x":1.827,"y":14,"g":"b3"},{"x":5.34,"y":8.1,"g":"c1"},{"x":5.05,"y":13.4,"g":"c1"},{"x":5.13,"y":12.9,"g":"c2"},{"x":5.05,"y":13.4,"g":"c2"},{"x":5.07,"y":11.9,"g":"c3"},{"x":5.05,"y":13.4,"g":"c3"}],
"notes":[{"x":0.615,"y":28.5,"t":"minimum"},{"x":0.615,"y":25.4,"t":"value"},{"x":0.91,"y":9.5,"t":"typical"},{"x":0.91,"y":6.4,"t":"value"},{"x":5.47,"y":5.7,"t":"maximum"},{"x":5.47,"y":2.6,"t":"value"}],
"frame":[{"x":-0.59,"y":-10.2,"g":"l"},{"x":-0.59,"y":82.36,"g":"l"},{"x":-0.59,"y":82.36,"g":"t"},{"x":7.49,"y":82.36,"g":"t"}]
},
"encoding":{
"x":{"field":"x","type":"quantitative","scale":{"domain":[0,6],"nice":false,"zero":false},"axis":{"values":[0,0.2,0.4,0.6,0.8,1,1.2,1.4,1.6,1.8,2,2.2,2.4,2.6,2.8,3,3.2,3.4,3.6,3.8,4,4.2,4.4,4.6,4.8,5,5.2,5.4,5.6,5.8,6],"labelExpr":"abs(datum.value-round(datum.value))<0.001?format(datum.value,'.1f'):''","labelOverlap":false,"labelFlush":false,"title":"IE [wt % U-235]","titleFont":"Lato","titleFontSize":24,"titleFontWeight":"bold","titleColor":"#111111","titlePadding":16,"labelFont":"Lato","labelFontSize":20,"labelColor":"#111111","labelPadding":21,"ticks":false,"domain":true,"domainColor":"#8c8c8c","domainWidth":2,"grid":true,"gridColor":"#b7b7b7","gridWidth":1}},
"y":{"field":"y","type":"quantitative","scale":{"domain":[0,80],"nice":false,"zero":false},"axis":{"values":[0,2,4,6,8,10,12,14,16,18,20,22,24,26,28,30,32,34,36,38,40,42,44,46,48,50,52,54,56,58,60,62,64,66,68,70,72,74,76,78,80],"labelExpr":"datum.value%10==0?datum.value:''","labelOverlap":false,"labelFlush":false,"title":"BU [GWd/MTU]","titleFont":"Lato","titleFontSize":25,"titleFontWeight":"bold","titleColor":"#111111","titlePadding":6,"labelFont":"Lato","labelFontSize":20,"labelColor":"#111111","labelPadding":21,"ticks":false,"domain":false,"grid":true,"gridColor":"#b7b7b7","gridWidth":1}}
},
"layer":[
{"data":{"name":"squares"},"mark":{"type":"point","filled":true,"opacity":1,"size":64,"stroke":"#ffffff","strokeWidth":1.2},
"encoding":{
"color":{"field":"c","type":"nominal","scale":{"domain":["a","b","c","d","e","f","g"],"range":["#8fcf55","#7030a0","#ffc000","#8db8e8","#7f7f7f","#4f81bd","#111111"]},"legend":{"orient":"none","legendX":981,"legendY":285,"title":null,"symbolSize":36,"symbolStrokeWidth":0,"rowPadding":17,"labelFont":"Lato","labelFontSize":17,"labelColor":"#222222","labelOffset":14,"labelExpr":"{'a':'#FA <= 10','b':'10 < #FA <= 50','c':'50 < #FA <= 200','d':'200 < #FA <= 500','e':'#FA > 500','f':'upper limit','g':'FA database'}[datum.label]"}},
"shape":{"field":"c","type":"nominal","scale":{"domain":["a","b","c","d","e","f","g"],"range":["square","square","square","square","square","M-6.7,-0.35H-0.3V-2H0.3V-0.35H6.7V0.35H0.3V2H-0.3V0.35H-6.7Z","M-2,0A2,2 0 1,1 2,0A2,2 0 1,1 -2,0Z"]},"legend":{"orient":"none","legendX":981,"legendY":285,"title":null}}
}},
{"data":{"name":"dashes"},"mark":{"type":"line","color":"#000000","strokeWidth":3.2,"strokeDash":[6,5]},"encoding":{"detail":{"field":"g","type":"nominal"}}},
{"data":{"name":"limit"},"mark":{"type":"line","color":"#4f81bd","strokeWidth":4.5},"encoding":{}},
{"data":{"name":"limit"},"mark":{"type":"point","shape":"cross","size":120,"filled":true,"color":"#5f91cd","opacity":1},"encoding":{}},
{"data":{"name":"fa"},"mark":{"type":"point","shape":"circle","filled":true,"size":140,"color":"#111111","opacity":1,"stroke":"#555555","strokeOpacity":0.55,"strokeWidth":2.5},"encoding":{}},
{"data":{"name":"typical"},"mark":{"type":"point","shape":"M-1,-1L1,1M-1,1L1,-1","size":230,"filled":false,"color":"#000000","opacity":1,"strokeWidth":3.4},"encoding":{}},
{"data":{"name":"arrows"},"mark":{"type":"line","color":"#000000","strokeWidth":3},"encoding":{"detail":{"field":"g","type":"nominal"}}},
{"data":{"name":"notes"},"mark":{"type":"text","font":"Liberation Serif","fontSize":24,"color":"#111111"},"encoding":{"text":{"field":"t","type":"nominal"}}},
{"data":{"name":"frame"},"mark":{"type":"line","color":"#000000","strokeWidth":3,"clip":false},"encoding":{"detail":{"field":"g","type":"nominal"}}}
]}
